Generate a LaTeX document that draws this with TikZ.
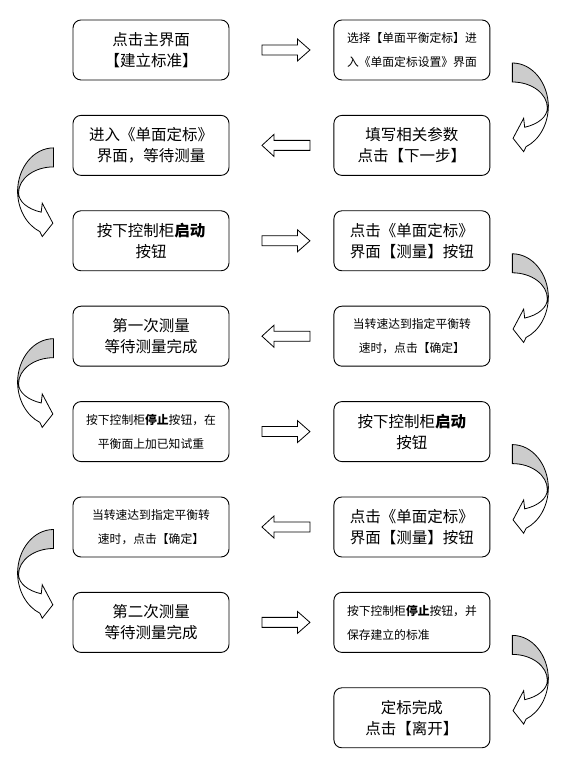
\documentclass[tikz,border=0pt]{standalone}
\usepackage{fontspec}
\setmainfont{Noto Sans CJK SC}
\usetikzlibrary{calc,positioning}

% curved ribbon arrow, drawn in local coordinates (origin at a box side)
\newcommand{\bendshape}{%
  % grey back of the ribbon
  \draw[backfill] (22,-13) arc[start angle=90, end angle=0, x radius=36, y radius=44]
    -- (57,-58) arc[start angle=0, end angle=90, x radius=35, y radius=26] -- cycle;
  % white front with the head
  \draw[blk] (57,-58) arc[start angle=0, end angle=-69.4, x radius=35, y radius=20.6]
    -- (33.3,-68.3) -- (22.7,-88.3) -- (33.3,-101.7) -- (35.7,-96.7)
    arc[start angle=-67.6, end angle=0, x radius=36, y radius=44] -- cycle;
}
\newcommand{\bendR}[1]{%
  \begin{scope}[shift={(#1.east)}]
    \bendshape
  \end{scope}
}
\newcommand{\bendL}[1]{%
  \begin{scope}[shift={($(#1.west)+(3,10.5)$)}, xscale=-1]
    \bendshape
  \end{scope}
}
% straight block arrows between two boxes of one row
\newcommand{\rblock}[2]{%
  \begin{scope}[shift={($(#1.east)!0.5!(#2.west)$)}]
    \draw[blk] (-19.5,-5) -- (16,-5) -- (16,-11) -- (28.5,0) -- (16,11) -- (16,5) -- (-19.5,5) -- cycle;
  \end{scope}
}
\newcommand{\lblock}[2]{%
  \begin{scope}[shift={($(#1.west)!0.5!(#2.east)$)}]
    \draw[blk] (28.5,-5) -- (-7.5,-5) -- (-7.5,-11) -- (-19.5,0) -- (-7.5,11) -- (-7.5,5) -- (28.5,5) -- cycle;
  \end{scope}
}

\begin{document}
\begin{tikzpicture}[
    x=1pt, y=1pt,
    box/.style={draw, line width=0.9pt, rounded corners=8pt, minimum width=156pt,
                minimum height=60pt, align=center, inner sep=2pt},
    big/.style={box, font=\fontsize{15.5}{21}\selectfont},
    small/.style={box, font=\fontsize{11.8}{24}\selectfont},
    blk/.style={draw, fill=white, line width=0.8pt},
    backfill/.style={draw, fill=gray!40, line width=0.8pt},
    node distance=34.5pt and 104pt,
]

\useasboundingbox (0,0) rectangle (572,759);

% ---------- left column ----------
\node[big] (l1) at (151,709) {点击主界面\\【建立标准】};
\node[big, below=of l1] (l2) {进入《单面定标》\\界面，等待测量};
\node[big, below=of l2] (l3) {按下控制柜\textbf{启动}\\按钮};
\node[big, below=of l3] (l4) {第一次测量\\等待测量完成};
\node[small, below=of l4] (l5) {按下控制柜\textbf{停止}按钮，在\\平衡面上加已知试重};
\node[small, below=of l5] (l6) {当转速达到指定平衡转\\速时，点击【确定】};
\node[big, below=of l6] (l7) {第二次测量\\等待测量完成};

% ---------- right column ----------
\node[small, right=of l1] (r1) {选择【单面平衡定标】进\\入《单面定标设置》界面};
\node[big, right=of l2] (r2) {填写相关参数\\点击【下一步】};
\node[big, right=of l3] (r3) {点击《单面定标》\\界面【测量】按钮};
\node[small, right=of l4] (r4) {当转速达到指定平衡转\\速时，点击【确定】};
\node[big, right=of l5] (r5) {按下控制柜\textbf{启动}\\按钮};
\node[big, right=of l6] (r6) {点击《单面定标》\\界面【测量】按钮};
\node[small, align=left, right=of l7] (r7) {按下控制柜\textbf{停止}按钮，并\\保存建立的标准};
\node[big, below=of r7] (r8) {定标完成\\点击【离开】};

% ---------- straight arrows ----------
\rblock{l1}{r1}
\lblock{r2}{l2}
\rblock{l3}{r3}
\lblock{r4}{l4}
\rblock{l5}{r5}
\lblock{r6}{l6}
\rblock{l7}{r7}

% ---------- curved arrows ----------
\bendR{r1}
\bendL{l2}
\bendR{r3}
\bendL{l4}
\bendR{r5}
\bendL{l6}
\bendR{r7}

\end{tikzpicture}
\end{document}
